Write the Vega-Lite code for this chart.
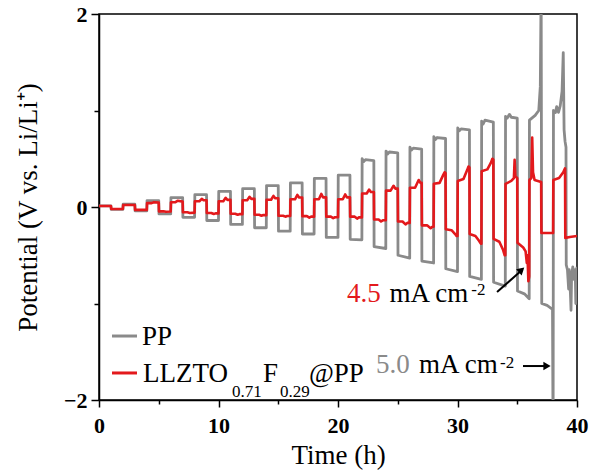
{
"$schema": "https://vega.github.io/schema/vega-lite/v6.json",
"width": 478, "height": 386,
"autosize": {"type": "none"},
"padding": {"left": 99, "top": 14, "right": 15, "bottom": 74},
"background": "white",
"config": {"view": {"stroke": "black", "strokeWidth": 1.5}, "font": "'Liberation Serif', 'Times New Roman', serif"},
"datasets": {"curves": [
{"s":"PP","t":0,"v":0.012},{"s":"PP","t":1,"v":0.012},{"s":"PP","t":1.02,"v":-0.025},{"s":"PP","t":2,"v":-0.025},
{"s":"PP","t":2.02,"v":0.03},{"s":"PP","t":3,"v":0.03},{"s":"PP","t":3.02,"v":-0.04},{"s":"PP","t":4,"v":-0.04},
{"s":"PP","t":4.02,"v":0.066},{"s":"PP","t":5,"v":0.066},{"s":"PP","t":5.02,"v":-0.072},{"s":"PP","t":6,"v":-0.072},
{"s":"PP","t":6.02,"v":0.097},{"s":"PP","t":7,"v":0.097},{"s":"PP","t":7.02,"v":-0.107},{"s":"PP","t":8,"v":-0.107},
{"s":"PP","t":8.02,"v":0.128},{"s":"PP","t":9,"v":0.128},{"s":"PP","t":9.02,"v":-0.14},{"s":"PP","t":10,"v":-0.14},
{"s":"PP","t":10.02,"v":0.162},{"s":"PP","t":11,"v":0.162},{"s":"PP","t":11.02,"v":-0.18},{"s":"PP","t":12,"v":-0.18},
{"s":"PP","t":12.02,"v":0.19},{"s":"PP","t":13,"v":0.19},{"s":"PP","t":13.02,"v":-0.215},{"s":"PP","t":14,"v":-0.215},
{"s":"PP","t":14.02,"v":0.222},{"s":"PP","t":15,"v":0.222},{"s":"PP","t":15.02,"v":-0.25},{"s":"PP","t":16,"v":-0.25},
{"s":"PP","t":16.02,"v":0.25},{"s":"PP","t":17,"v":0.25},{"s":"PP","t":17.02,"v":-0.28},{"s":"PP","t":18,"v":-0.28},
{"s":"PP","t":18.02,"v":0.296},{"s":"PP","t":19,"v":0.296},{"s":"PP","t":19.02,"v":-0.315},{"s":"PP","t":20,"v":-0.315},
{"s":"PP","t":20.02,"v":0.33},{"s":"PP","t":21,"v":0.33},{"s":"PP","t":21.02,"v":-0.335},{"s":"PP","t":22,"v":-0.34},
{"s":"PP","t":22.02,"v":0.5},{"s":"PP","t":22.15,"v":0.47},{"s":"PP","t":22.3,"v":0.49},{"s":"PP","t":23,"v":0.48},{"s":"PP","t":23.02,"v":-0.41},{"s":"PP","t":24,"v":-0.43},
{"s":"PP","t":24.02,"v":0.58},{"s":"PP","t":24.15,"v":0.55},{"s":"PP","t":24.3,"v":0.57},{"s":"PP","t":25,"v":0.56},{"s":"PP","t":25.02,"v":-0.5},{"s":"PP","t":26,"v":-0.53},
{"s":"PP","t":26.02,"v":0.62},{"s":"PP","t":26.15,"v":0.59},{"s":"PP","t":26.3,"v":0.61},{"s":"PP","t":27,"v":0.6},{"s":"PP","t":27.02,"v":-0.56},{"s":"PP","t":28,"v":-0.58},
{"s":"PP","t":28.02,"v":0.73},{"s":"PP","t":28.15,"v":0.7},{"s":"PP","t":28.3,"v":0.72},{"s":"PP","t":29,"v":0.71},{"s":"PP","t":29.02,"v":-0.64},{"s":"PP","t":30,"v":-0.67},
{"s":"PP","t":30.02,"v":0.82},{"s":"PP","t":30.15,"v":0.79},{"s":"PP","t":30.3,"v":0.81},{"s":"PP","t":31,"v":0.8},{"s":"PP","t":31.02,"v":-0.72},{"s":"PP","t":32,"v":-0.75},
{"s":"PP","t":32.02,"v":0.89},{"s":"PP","t":32.15,"v":0.86},{"s":"PP","t":32.3,"v":0.9},{"s":"PP","t":33,"v":0.88},{"s":"PP","t":33.02,"v":-0.78},{"s":"PP","t":34,"v":-0.82},
{"s":"PP","t":34.02,"v":0.94},{"s":"PP","t":34.15,"v":0.92},{"s":"PP","t":34.35,"v":0.96},{"s":"PP","t":34.5,"v":0.93},{"s":"PP","t":35,"v":0.92},{"s":"PP","t":35.02,"v":-0.87},{"s":"PP","t":35.6,"v":-0.9},{"s":"PP","t":36,"v":-0.95},
{"s":"PP","t":36.02,"v":0.9},{"s":"PP","t":36.5,"v":0.95},{"s":"PP","t":36.8,"v":1.0},{"s":"PP","t":36.93,"v":1.25},{"s":"PP","t":37,"v":2.3},{"s":"PP","t":37.05,"v":-1.0},{"s":"PP","t":37.5,"v":-1.02},{"s":"PP","t":37.95,"v":-1.06},{"s":"PP","t":38,"v":-2.5},{"s":"PP","t":38.03,"v":1.0},
{"s":"PP","t":38.2,"v":0.98},{"s":"PP","t":38.3,"v":1.04},{"s":"PP","t":38.45,"v":0.98},{"s":"PP","t":38.6,"v":1.05},{"s":"PP","t":38.75,"v":1.2},{"s":"PP","t":38.85,"v":1.6},{"s":"PP","t":38.92,"v":0.8},{"s":"PP","t":39,"v":0.68},{"s":"PP","t":39.08,"v":0.62},{"s":"PP","t":39.1,"v":-0.6},{"s":"PP","t":39.2,"v":-0.65},{"s":"PP","t":39.3,"v":-0.85},{"s":"PP","t":39.35,"v":-0.65},{"s":"PP","t":39.45,"v":-0.9},{"s":"PP","t":39.5,"v":-1.07},{"s":"PP","t":39.55,"v":-0.7},{"s":"PP","t":39.65,"v":-0.62},{"s":"PP","t":39.75,"v":-0.75},{"s":"PP","t":39.85,"v":-0.65},{"s":"PP","t":39.9,"v":-1.0},{"s":"PP","t":39.95,"v":-0.7},{"s":"PP","t":40,"v":-0.62},
{"s":"LLZTO","t":0,"v":0.01},{"s":"LLZTO","t":1,"v":0.01},{"s":"LLZTO","t":1.02,"v":-0.02},{"s":"LLZTO","t":2,"v":-0.02},
{"s":"LLZTO","t":2.02,"v":0.02},{"s":"LLZTO","t":3,"v":0.02},{"s":"LLZTO","t":3.02,"v":-0.03},{"s":"LLZTO","t":4,"v":-0.03},
{"s":"LLZTO","t":4.02,"v":0.04},{"s":"LLZTO","t":4.4,"v":0.04},{"s":"LLZTO","t":4.6,"v":0.05},{"s":"LLZTO","t":5,"v":0.045},{"s":"LLZTO","t":5.02,"v":-0.045},{"s":"LLZTO","t":5.4,"v":-0.045},{"s":"LLZTO","t":5.6,"v":-0.05},{"s":"LLZTO","t":6,"v":-0.047},
{"s":"LLZTO","t":6.02,"v":0.05},{"s":"LLZTO","t":6.4,"v":0.05},{"s":"LLZTO","t":6.6,"v":0.065},{"s":"LLZTO","t":7,"v":0.056},{"s":"LLZTO","t":7.02,"v":-0.055},{"s":"LLZTO","t":7.4,"v":-0.055},{"s":"LLZTO","t":7.6,"v":-0.062},{"s":"LLZTO","t":8,"v":-0.058},
{"s":"LLZTO","t":8.02,"v":0.06},{"s":"LLZTO","t":8.4,"v":0.06},{"s":"LLZTO","t":8.6,"v":0.085},{"s":"LLZTO","t":8.75,"v":0.07},{"s":"LLZTO","t":9,"v":0.07},{"s":"LLZTO","t":9.02,"v":-0.062},{"s":"LLZTO","t":9.4,"v":-0.062},{"s":"LLZTO","t":9.6,"v":-0.072},{"s":"LLZTO","t":9.75,"v":-0.066},{"s":"LLZTO","t":10,"v":-0.066},
{"s":"LLZTO","t":10.02,"v":0.06},{"s":"LLZTO","t":10.4,"v":0.06},{"s":"LLZTO","t":10.6,"v":0.095},{"s":"LLZTO","t":10.75,"v":0.074},{"s":"LLZTO","t":11,"v":0.074},{"s":"LLZTO","t":11.02,"v":-0.07},{"s":"LLZTO","t":11.4,"v":-0.07},{"s":"LLZTO","t":11.6,"v":-0.08},{"s":"LLZTO","t":11.75,"v":-0.074},{"s":"LLZTO","t":12,"v":-0.074},
{"s":"LLZTO","t":12.02,"v":0.07},{"s":"LLZTO","t":12.4,"v":0.07},{"s":"LLZTO","t":12.6,"v":0.105},{"s":"LLZTO","t":12.75,"v":0.084},{"s":"LLZTO","t":13,"v":0.084},{"s":"LLZTO","t":13.02,"v":-0.08},{"s":"LLZTO","t":13.4,"v":-0.08},{"s":"LLZTO","t":13.6,"v":-0.09},{"s":"LLZTO","t":13.75,"v":-0.084},{"s":"LLZTO","t":14,"v":-0.084},
{"s":"LLZTO","t":14.02,"v":0.075},{"s":"LLZTO","t":14.4,"v":0.075},{"s":"LLZTO","t":14.6,"v":0.115},{"s":"LLZTO","t":14.75,"v":0.09},{"s":"LLZTO","t":15,"v":0.09},{"s":"LLZTO","t":15.02,"v":-0.09},{"s":"LLZTO","t":15.4,"v":-0.09},{"s":"LLZTO","t":15.6,"v":-0.1},{"s":"LLZTO","t":15.75,"v":-0.094},{"s":"LLZTO","t":16,"v":-0.094},
{"s":"LLZTO","t":16.02,"v":0.08},{"s":"LLZTO","t":16.4,"v":0.08},{"s":"LLZTO","t":16.6,"v":0.125},{"s":"LLZTO","t":16.75,"v":0.098},{"s":"LLZTO","t":17,"v":0.098},{"s":"LLZTO","t":17.02,"v":-0.095},{"s":"LLZTO","t":17.4,"v":-0.095},{"s":"LLZTO","t":17.6,"v":-0.11},{"s":"LLZTO","t":17.75,"v":-0.1},{"s":"LLZTO","t":18,"v":-0.1},
{"s":"LLZTO","t":18.02,"v":0.08},{"s":"LLZTO","t":18.4,"v":0.08},{"s":"LLZTO","t":18.6,"v":0.135},{"s":"LLZTO","t":18.75,"v":0.1},{"s":"LLZTO","t":19,"v":0.1},{"s":"LLZTO","t":19.02,"v":-0.1},{"s":"LLZTO","t":19.4,"v":-0.1},{"s":"LLZTO","t":19.6,"v":-0.115},{"s":"LLZTO","t":19.75,"v":-0.106},{"s":"LLZTO","t":20,"v":-0.106},
{"s":"LLZTO","t":20.02,"v":0.08},{"s":"LLZTO","t":20.4,"v":0.08},{"s":"LLZTO","t":20.6,"v":0.13},{"s":"LLZTO","t":20.75,"v":0.1},{"s":"LLZTO","t":21,"v":0.1},{"s":"LLZTO","t":21.02,"v":-0.1},{"s":"LLZTO","t":21.4,"v":-0.1},{"s":"LLZTO","t":21.6,"v":-0.12},{"s":"LLZTO","t":21.75,"v":-0.108},{"s":"LLZTO","t":22,"v":-0.108},
{"s":"LLZTO","t":22.02,"v":0.14},{"s":"LLZTO","t":22.4,"v":0.14},{"s":"LLZTO","t":22.6,"v":0.18},{"s":"LLZTO","t":22.75,"v":0.155},{"s":"LLZTO","t":23,"v":0.155},{"s":"LLZTO","t":23.02,"v":-0.13},{"s":"LLZTO","t":23.4,"v":-0.13},{"s":"LLZTO","t":23.6,"v":-0.15},{"s":"LLZTO","t":23.75,"v":-0.138},{"s":"LLZTO","t":24,"v":-0.138},
{"s":"LLZTO","t":24.02,"v":0.17},{"s":"LLZTO","t":24.4,"v":0.17},{"s":"LLZTO","t":24.65,"v":0.22},{"s":"LLZTO","t":24.8,"v":0.19},{"s":"LLZTO","t":25,"v":0.19},{"s":"LLZTO","t":25.02,"v":-0.15},{"s":"LLZTO","t":25.4,"v":-0.15},{"s":"LLZTO","t":25.65,"v":-0.18},{"s":"LLZTO","t":25.8,"v":-0.165},{"s":"LLZTO","t":26,"v":-0.165},
{"s":"LLZTO","t":26.02,"v":0.2},{"s":"LLZTO","t":26.45,"v":0.2},{"s":"LLZTO","t":26.75,"v":0.28},{"s":"LLZTO","t":26.9,"v":0.25},{"s":"LLZTO","t":27,"v":0.25},{"s":"LLZTO","t":27.02,"v":-0.19},{"s":"LLZTO","t":27.45,"v":-0.19},{"s":"LLZTO","t":27.75,"v":-0.22},{"s":"LLZTO","t":27.9,"v":-0.205},{"s":"LLZTO","t":28,"v":-0.205},
{"s":"LLZTO","t":28.02,"v":0.24},{"s":"LLZTO","t":28.5,"v":0.25},{"s":"LLZTO","t":28.8,"v":0.33},{"s":"LLZTO","t":28.92,"v":0.36},{"s":"LLZTO","t":29,"v":0.35},{"s":"LLZTO","t":29.02,"v":-0.23},{"s":"LLZTO","t":29.5,"v":-0.24},{"s":"LLZTO","t":29.8,"v":-0.28},{"s":"LLZTO","t":29.92,"v":-0.3},{"s":"LLZTO","t":30,"v":-0.3},
{"s":"LLZTO","t":30.02,"v":0.27},{"s":"LLZTO","t":30.5,"v":0.29},{"s":"LLZTO","t":30.8,"v":0.38},{"s":"LLZTO","t":30.92,"v":0.42},{"s":"LLZTO","t":31,"v":0.41},{"s":"LLZTO","t":31.02,"v":-0.28},{"s":"LLZTO","t":31.5,"v":-0.3},{"s":"LLZTO","t":31.8,"v":-0.35},{"s":"LLZTO","t":31.95,"v":-0.38},{"s":"LLZTO","t":32,"v":-0.38},
{"s":"LLZTO","t":32.02,"v":0.37},{"s":"LLZTO","t":32.5,"v":0.39},{"s":"LLZTO","t":32.8,"v":0.46},{"s":"LLZTO","t":32.92,"v":0.5},{"s":"LLZTO","t":33,"v":0.49},{"s":"LLZTO","t":33.02,"v":-0.33},{"s":"LLZTO","t":33.5,"v":-0.36},{"s":"LLZTO","t":33.8,"v":-0.44},{"s":"LLZTO","t":33.95,"v":-0.5},{"s":"LLZTO","t":34,"v":-0.5},
{"s":"LLZTO","t":34.02,"v":0.24},{"s":"LLZTO","t":34.5,"v":0.27},{"s":"LLZTO","t":34.72,"v":0.3},{"s":"LLZTO","t":34.78,"v":0.49},{"s":"LLZTO","t":34.84,"v":0.32},{"s":"LLZTO","t":35,"v":0.3},{"s":"LLZTO","t":35.02,"v":-0.37},{"s":"LLZTO","t":35.5,"v":-0.42},{"s":"LLZTO","t":35.7,"v":-0.46},{"s":"LLZTO","t":35.8,"v":-0.58},{"s":"LLZTO","t":35.86,"v":-0.5},{"s":"LLZTO","t":35.93,"v":-0.77},{"s":"LLZTO","t":36,"v":-0.72},
{"s":"LLZTO","t":36.02,"v":0.28},{"s":"LLZTO","t":36.18,"v":0.3},{"s":"LLZTO","t":36.25,"v":0.72},{"s":"LLZTO","t":36.32,"v":0.36},{"s":"LLZTO","t":36.45,"v":0.28},{"s":"LLZTO","t":37,"v":0.26},{"s":"LLZTO","t":37.02,"v":-0.27},{"s":"LLZTO","t":38,"v":-0.27},
{"s":"LLZTO","t":38.02,"v":0.28},{"s":"LLZTO","t":38.5,"v":0.3},{"s":"LLZTO","t":38.85,"v":0.36},{"s":"LLZTO","t":39,"v":0.4},{"s":"LLZTO","t":39.02,"v":-0.32},{"s":"LLZTO","t":39.4,"v":-0.31},{"s":"LLZTO","t":40,"v":-0.3}
]},
"layer": [
{"data": {"name": "curves"},
 "transform": [{"filter": "datum.s === 'PP'"}],
 "mark": {"type": "line", "clip": true, "strokeWidth": 2.8, "strokeJoin": "round"},
 "encoding": {
  "x": {"field": "t", "type": "quantitative", "scale": {"domain": [0, 40], "nice": false},
   "axis": {"title": "Time (h)", "values": [0,5,10,15,20,25,30,35,40],
    "labelExpr": "datum.value % 10 === 0 ? datum.label : ''",
    "tickSize": {"condition": {"test": "datum.value % 10 === 0", "value": 7}, "value": 4},
    "labelFont": "'Liberation Serif', 'Times New Roman', serif", "labelFontWeight": "bold", "labelFontSize": 22, "labelColor": "black",
    "labelFlush": false, "labelOverlap": false, "labelPadding": 8,
    "titleFont": "'Liberation Serif', 'Times New Roman', serif", "titleFontSize": 27, "titleFontWeight": "normal", "titleColor": "black", "titlePadding": 6,
    "domainColor": "black", "domainWidth": 1.5, "tickColor": "black", "tickWidth": 1.5, "grid": false}},
  "y": {"field": "v", "type": "quantitative", "scale": {"domain": [-2, 2], "nice": false},
   "axis": {"title": "Potential (V vs. Li/Li⁺)", "values": [-2,-1,0,1,2],
    "labelExpr": "datum.value === 2 ? '2' : datum.value === 0 ? '0' : datum.value === -2 ? '−2' : ''",
    "tickSize": {"condition": {"test": "datum.value % 2 === 0", "value": 8}, "value": 5},
    "labelFont": "'Liberation Serif', 'Times New Roman', serif", "labelFontWeight": "bold", "labelFontSize": 22, "labelColor": "black",
    "labelFlush": false, "labelOverlap": false, "labelPadding": 4,
    "titleFont": "'Liberation Serif', 'Times New Roman', serif", "titleFontSize": 27, "titleFontWeight": "normal", "titleColor": "black", "titlePadding": 21,
    "domainColor": "black", "domainWidth": 1.5, "tickColor": "black", "tickWidth": 1.5, "grid": false}},
  "color": {"field": "s", "type": "nominal", "scale": {"domain": ["PP", "LLZTO"], "range": ["#8a8a8a", "#e3191c"]}, "legend": null}
 }},
{"data": {"name": "curves"},
 "transform": [{"filter": "datum.s === 'LLZTO'"}],
 "mark": {"type": "line", "clip": true, "strokeWidth": 2.6, "strokeJoin": "round"},
 "encoding": {
  "x": {"field": "t", "type": "quantitative"},
  "y": {"field": "v", "type": "quantitative"},
  "color": {"field": "s", "type": "nominal", "legend": null}
 }},
{"data": {"values": [{}]}, "mark": {"type": "rule", "color": "#8a8a8a", "strokeWidth": 3},
 "encoding": {"x": {"datum": 1.09, "type": "quantitative"}, "x2": {"datum": 3.18}, "y": {"datum": -1.337, "type": "quantitative"}}},
{"data": {"values": [{}]}, "mark": {"type": "rule", "color": "#e3191c", "strokeWidth": 3},
 "encoding": {"x": {"datum": 1.09, "type": "quantitative"}, "x2": {"datum": 3.18}, "y": {"datum": -1.72, "type": "quantitative"}}},
{"data": {"values": [{}]}, "mark": {"type": "text", "text": "PP", "font": "'Liberation Serif', 'Times New Roman', serif", "fontSize": 27, "align": "left", "baseline": "alphabetic", "color": "black"},
 "encoding": {"x": {"datum": 3.6, "type": "quantitative"}, "y": {"datum": -1.43, "type": "quantitative"}}},
{"data": {"values": [{}]}, "mark": {"type": "text", "text": "LLZTO", "font": "'Liberation Serif', 'Times New Roman', serif", "fontSize": 27, "align": "left", "baseline": "alphabetic", "color": "black"},
 "encoding": {"x": {"datum": 3.68, "type": "quantitative"}, "y": {"datum": -1.813, "type": "quantitative"}}},
{"data": {"values": [{}]}, "mark": {"type": "text", "text": "0.71", "font": "'Liberation Serif', 'Times New Roman', serif", "fontSize": 17, "align": "left", "baseline": "alphabetic", "color": "black"},
 "encoding": {"x": {"datum": 11.13, "type": "quantitative"}, "y": {"datum": -1.969, "type": "quantitative"}}},
{"data": {"values": [{}]}, "mark": {"type": "text", "text": "F", "font": "'Liberation Serif', 'Times New Roman', serif", "fontSize": 27, "align": "left", "baseline": "alphabetic", "color": "black"},
 "encoding": {"x": {"datum": 13.72, "type": "quantitative"}, "y": {"datum": -1.813, "type": "quantitative"}}},
{"data": {"values": [{}]}, "mark": {"type": "text", "text": "0.29", "font": "'Liberation Serif', 'Times New Roman', serif", "fontSize": 17, "align": "left", "baseline": "alphabetic", "color": "black"},
 "encoding": {"x": {"datum": 15.15, "type": "quantitative"}, "y": {"datum": -1.969, "type": "quantitative"}}},
{"data": {"values": [{}]}, "mark": {"type": "text", "text": "@PP", "font": "'Liberation Serif', 'Times New Roman', serif", "fontSize": 27, "align": "left", "baseline": "alphabetic", "color": "black"},
 "encoding": {"x": {"datum": 17.57, "type": "quantitative"}, "y": {"datum": -1.813, "type": "quantitative"}}},
{"data": {"values": [{}]}, "mark": {"type": "text", "text": "4.5", "font": "'Liberation Serif', 'Times New Roman', serif", "fontSize": 27, "align": "left", "baseline": "alphabetic", "color": "#e3191c"},
 "encoding": {"x": {"datum": 20.75, "type": "quantitative"}, "y": {"datum": -0.984, "type": "quantitative"}}},
{"data": {"values": [{}]}, "mark": {"type": "text", "text": "mA cm", "font": "'Liberation Serif', 'Times New Roman', serif", "fontSize": 27, "align": "left", "baseline": "alphabetic", "color": "black"},
 "encoding": {"x": {"datum": 24.3, "type": "quantitative"}, "y": {"datum": -0.984, "type": "quantitative"}}},
{"data": {"values": [{}]}, "mark": {"type": "text", "text": "-2", "font": "'Liberation Serif', 'Times New Roman', serif", "fontSize": 17, "align": "left", "baseline": "alphabetic", "color": "black"},
 "encoding": {"x": {"datum": 31.15, "type": "quantitative"}, "y": {"datum": -0.912, "type": "quantitative"}}},
{"data": {"values": [{}]}, "mark": {"type": "text", "text": "5.0", "font": "'Liberation Serif', 'Times New Roman', serif", "fontSize": 27, "align": "left", "baseline": "alphabetic", "color": "#8a8a8a"},
 "encoding": {"x": {"datum": 23.18, "type": "quantitative"}, "y": {"datum": -1.72, "type": "quantitative"}}},
{"data": {"values": [{}]}, "mark": {"type": "text", "text": "mA cm", "font": "'Liberation Serif', 'Times New Roman', serif", "fontSize": 27, "align": "left", "baseline": "alphabetic", "color": "black"},
 "encoding": {"x": {"datum": 26.78, "type": "quantitative"}, "y": {"datum": -1.72, "type": "quantitative"}}},
{"data": {"values": [{}]}, "mark": {"type": "text", "text": "-2", "font": "'Liberation Serif', 'Times New Roman', serif", "fontSize": 17, "align": "left", "baseline": "alphabetic", "color": "black"},
 "encoding": {"x": {"datum": 33.56, "type": "quantitative"}, "y": {"datum": -1.673, "type": "quantitative"}}},
{"data": {"values": [{}]}, "mark": {"type": "rule", "color": "black", "strokeWidth": 2},
 "encoding": {"x": {"datum": 33.31, "type": "quantitative"}, "x2": {"datum": 35.4}, "y": {"datum": -0.881, "type": "quantitative"}, "y2": {"datum": -0.653}}},
{"data": {"values": [{}]}, "mark": {"type": "point", "shape": "triangle-up", "angle": 48, "size": 70, "filled": true, "color": "black", "opacity": 1},
 "encoding": {"x": {"datum": 35.36, "type": "quantitative"}, "y": {"datum": -0.653, "type": "quantitative"}}},
{"data": {"values": [{}]}, "mark": {"type": "rule", "color": "black", "strokeWidth": 2},
 "encoding": {"x": {"datum": 35.48, "type": "quantitative"}, "x2": {"datum": 37.5}, "y": {"datum": -1.648, "type": "quantitative"}}},
{"data": {"values": [{}]}, "mark": {"type": "point", "shape": "triangle-right", "size": 70, "filled": true, "color": "black", "opacity": 1},
 "encoding": {"x": {"datum": 37.49, "type": "quantitative"}, "y": {"datum": -1.648, "type": "quantitative"}}}
]
}
